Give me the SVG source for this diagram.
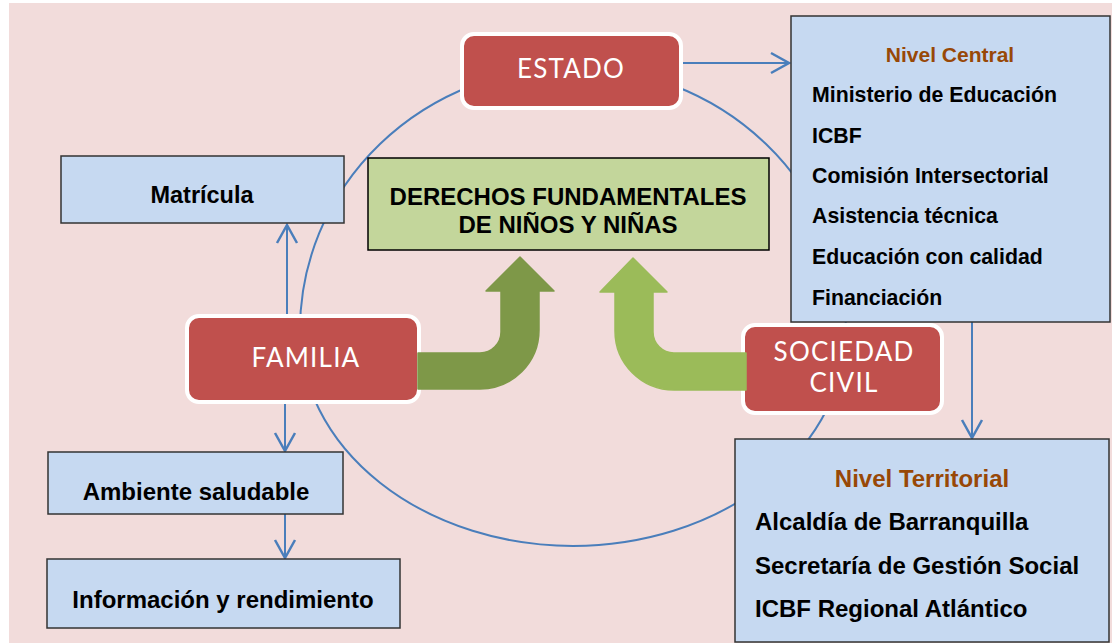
<svg xmlns="http://www.w3.org/2000/svg" width="1112" height="643" viewBox="0 0 1112 643">
<defs>
<marker id="chev" markerUnits="userSpaceOnUse" markerWidth="26" markerHeight="26" viewBox="-22 -13 26 26" refX="0" refY="0" orient="auto">
<path d="M -18 -10 L 0 0 L -18 10" fill="none" stroke="#4a7ebb" stroke-width="2.5"/>
</marker>
<style>
.bg{fill:#f2dcdb}
.red{fill:#c0504d;stroke:#ffffff;stroke-width:4}
.rt{font-family:Lato,"Open Sans",sans-serif;font-size:26px;letter-spacing:1.2px;fill:#ffffff;text-anchor:middle}
.blue{fill:#c6d9f1;stroke:#333333;stroke-width:1.5}
.bt{font-family:"Liberation Sans",Arial,sans-serif;font-weight:bold;fill:#000000}
.hd{fill:#984807;text-anchor:middle}
.conn{fill:none;stroke:#4a7ebb;stroke-width:2}
</style>
</defs>
<rect class="bg" x="9" y="3" width="1103" height="640"/>
<g id="connectors">
<path class="conn" d="M 300,330 A 273 263 0 0 1 846,330 A 273 216 0 0 1 300,330 Z"/>
<line class="conn" x1="683" y1="63" x2="789" y2="63" marker-end="url(#chev)"/>
<line class="conn" x1="972" y1="322" x2="972" y2="438" marker-end="url(#chev)"/>
<line class="conn" x1="287" y1="322" x2="287" y2="225" marker-end="url(#chev)"/>
<line class="conn" x1="285" y1="404" x2="285" y2="451" marker-end="url(#chev)"/>
<line class="conn" x1="285" y1="497" x2="285" y2="558" marker-end="url(#chev)"/>
</g>
<g id="derechos">
<rect x="368" y="158" width="401" height="92" fill="#c3d69b" stroke="#000000" stroke-width="1.5"/>
<text class="bt" x="568" y="205" font-size="24" text-anchor="middle">DERECHOS FUNDAMENTALES</text>
<text class="bt" x="568" y="233" font-size="24" text-anchor="middle">DE NIÑOS Y NIÑAS</text>
</g>
<g id="estado">
<rect class="red" x="462" y="34" width="219" height="74" rx="12"/>
<text class="rt" x="571" y="78">ESTADO</text>
</g>
<g id="familia">
<rect class="red" x="187" y="316" width="232" height="86" rx="12"/>
<text class="rt" x="306" y="367">FAMILIA</text>
</g>
<g id="sociedad">
<rect class="red" x="743" y="325" width="199" height="88" rx="12"/>
<text class="rt" x="844" y="361">SOCIEDAD</text>
<text class="rt" x="844" y="392">CIVIL</text>
</g>
<g id="matricula">
<rect class="blue" x="61" y="156" width="283" height="67"/>
<text class="bt" x="202" y="203" font-size="23.5" text-anchor="middle">Matrícula</text>
</g>
<g id="ambiente">
<rect class="blue" x="48" y="452" width="295" height="62"/>
<text class="bt" x="196" y="500" font-size="24" text-anchor="middle">Ambiente saludable</text>
</g>
<g id="informacion">
<rect class="blue" x="47" y="559" width="353" height="69"/>
<text class="bt" x="223" y="608" font-size="24" text-anchor="middle">Información y rendimiento</text>
</g>
<g id="nivel-central">
<rect class="blue" x="791" y="16" width="319" height="306"/>
<text class="bt hd" x="950" y="62" font-size="21">Nivel Central</text>
<text class="bt" x="812" y="102" font-size="21.3">Ministerio de Educación</text>
<text class="bt" x="812" y="143" font-size="21.3">ICBF</text>
<text class="bt" x="812" y="183" font-size="21.3">Comisión Intersectorial</text>
<text class="bt" x="812" y="223" font-size="21.3">Asistencia técnica</text>
<text class="bt" x="812" y="264" font-size="21.3">Educación con calidad</text>
<text class="bt" x="812" y="305" font-size="21.3">Financiación</text>
</g>
<g id="nivel-territorial">
<rect class="blue" x="735" y="439" width="374" height="203"/>
<text class="bt hd" x="922" y="487" font-size="24">Nivel Territorial</text>
<text class="bt" x="755" y="530" font-size="24">Alcaldía de Barranquilla</text>
<text class="bt" x="755" y="574" font-size="24">Secretaría de Gestión Social</text>
<text class="bt" x="755" y="617" font-size="24">ICBF Regional Atlántico</text>
</g>
<g id="flecha-familia">
<path d="M 418,353 L 480,353 A 21 21 0 0 0 501,332 L 501,291 L 486,291 L 520,257 L 554,291 L 539,291 L 539,330 A 59 59 0 0 1 480,389 L 418,389 Z" fill="#7e9848" stroke="#7e9848" stroke-width="1.5" stroke-linejoin="round"/>
</g>
<g id="flecha-sociedad">
<path d="M 746,353 L 674,353 A 21 21 0 0 1 653,332 L 653,292 L 667,292 L 633,258 L 600,292 L 615,292 L 615,331 A 59 59 0 0 0 674,390 L 746,390 Z" fill="#9bbb59" stroke="#9bbb59" stroke-width="1.5" stroke-linejoin="round"/>
</g>
</svg>
